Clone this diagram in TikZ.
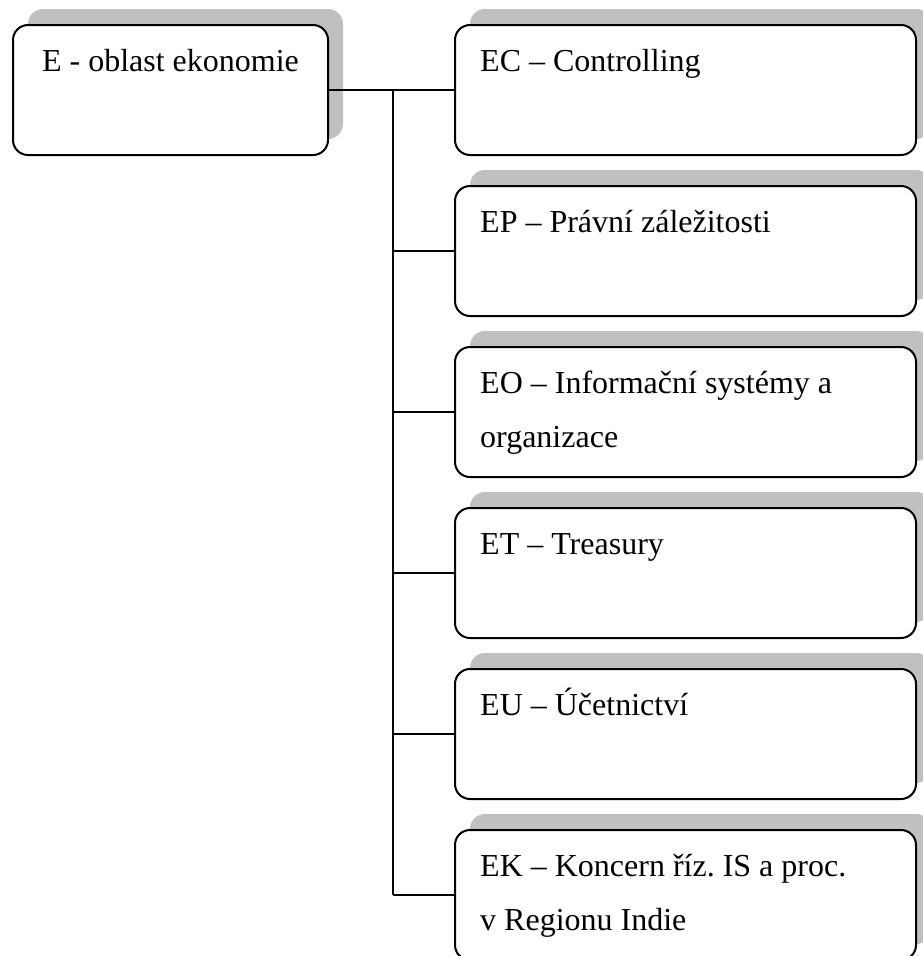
\documentclass[tikz,border=0pt]{standalone}
\usepackage{fontspec}
\setmainfont{Liberation Serif}
\usetikzlibrary{shadows}
\definecolor{shadowgray}{HTML}{C0C0C0}
\frenchspacing
\tikzset{
  orgbox/.style={draw=black, line width=2pt, fill=white, rounded corners=15pt,
    inner sep=0pt, anchor=north west,
    general shadow={shadow xshift=15pt, shadow yshift=16pt, fill=shadowgray, draw=none}},
  childbox/.style={orgbox, minimum width=461pt, minimum height=130pt},
  txt/.style={inner sep=0pt, font=\fontsize{32}{54}\selectfont\frenchspacing, anchor=base west},
  conn/.style={draw=black, line width=2pt}
}
\begin{document}
\begin{tikzpicture}[x=1pt,y=1pt]
\useasboundingbox (0,0) rectangle (922,-956);
% main box
\node[orgbox, minimum width=315pt, minimum height=130pt] (main) at (12,-24) {};
\node[txt, anchor=base] (maint) at ([yshift=-47pt]main.north) {E - oblast ekonomie};
% child boxes
\node[childbox] (ec) at (454,-24) {};
\node[childbox] (ep) at (454,-185) {};
\node[childbox] (eo) at (454,-346) {};
\node[childbox] (et) at (454,-507) {};
\node[childbox] (eu) at (454,-668) {};
\node[childbox] (ek) at (454,-829) {};
% texts
\node[txt] (ect) at ([xshift=26pt,yshift=-47pt]ec.north west) {EC – Controlling};
\node[txt] (ept) at ([xshift=26pt,yshift=-47pt]ep.north west) {EP – Právní záležitosti};
\node[txt] (eot) at ([xshift=26pt,yshift=-47pt]eo.north west) {EO – Informační systémy a};
\node[txt] (eot2) at ([yshift=-54pt]eot.base west) {organizace};
\node[txt] (ett) at ([xshift=26pt,yshift=-47pt]et.north west) {ET – Treasury};
\node[txt] (eut) at ([xshift=26pt,yshift=-47pt]eu.north west) {EU – Účetnictví};
\node[txt] (ekt) at ([xshift=26pt,yshift=-47pt]ek.north west) {EK – Koncern říz. IS a proc.};
\node[txt] (ekt2) at ([yshift=-54pt]ekt.base west) {v Regionu Indie};
% connectors
\coordinate (bus) at (393,-89);
\draw[conn] (main.east) -- (ec.west);
\draw[conn] (bus) -- (bus |- ek.west);
\foreach \c in {ep,eo,et,eu,ek}{
  \draw[conn] (bus |- \c.west) -- (\c.west);
}
\end{tikzpicture}
\end{document}
